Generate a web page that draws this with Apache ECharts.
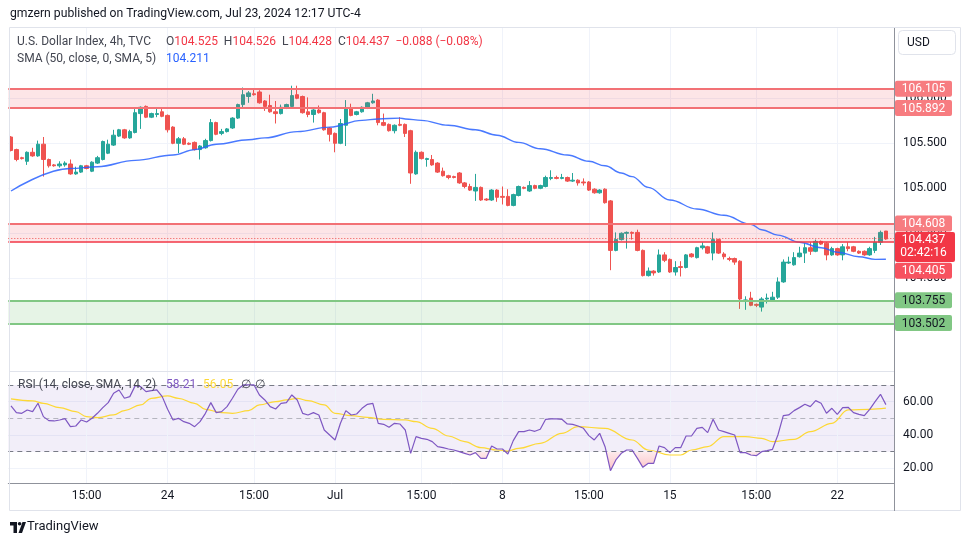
<!DOCTYPE html>
<html><head><meta charset="utf-8">
<script src="https://cdn.jsdelivr.net/npm/echarts@6/dist/echarts.min.js"></script>
<style>html,body{margin:0;padding:0;background:#fff}#c{width:970px;height:545px}</style>
</head><body><div id="c"></div>
<script>
// ---- data: [open, close, low, high] per 4h candle ----
const ohlc = [
[105.57,105.42,105.41,105.58],[105.43,105.32,105.30,105.44],[105.34,105.33,105.32,105.35],[105.30,105.40,105.26,105.41],[105.40,105.36,105.35,105.45],
[105.36,105.49,105.35,105.53],[105.49,105.32,105.13,105.57],[105.32,105.25,105.23,105.33],[105.26,105.25,105.24,105.27],[105.25,105.27,105.23,105.30],
[105.26,105.28,105.24,105.30],[105.27,105.16,105.15,105.32],[105.16,105.18,105.15,105.24],[105.18,105.25,105.17,105.26],[105.25,105.22,105.21,105.26],
[105.19,105.29,105.18,105.30],[105.28,105.34,105.27,105.36],[105.32,105.52,105.31,105.53],[105.39,105.49,105.38,105.54],[105.48,105.59,105.47,105.65],
[105.58,105.65,105.57,105.66],[105.65,105.56,105.55,105.66],[105.56,105.63,105.55,105.65],[105.62,105.84,105.61,105.88],[105.83,105.90,105.66,105.91],
[105.91,105.79,105.78,105.92],[105.79,105.83,105.78,105.84],[105.82,105.83,105.79,105.90],[105.85,105.80,105.79,105.90],[105.81,105.65,105.62,105.82],
[105.68,105.50,105.49,105.69],[105.50,105.55,105.39,105.57],[105.55,105.49,105.48,105.57],[105.50,105.49,105.48,105.51],[105.51,105.43,105.42,105.52],
[105.43,105.47,105.32,105.48],[105.45,105.53,105.44,105.55],[105.53,105.73,105.52,105.77],[105.73,105.60,105.59,105.74],[105.61,105.63,105.59,105.66],
[105.63,105.66,105.62,105.67],[105.67,105.78,105.66,105.79],[105.78,105.93,105.77,105.94],[105.93,106.04,105.90,106.12],[106.02,106.06,105.95,106.08],
[106.05,106.04,106.03,106.11],[106.07,105.95,105.94,106.09],[105.97,105.91,105.86,105.98],[105.92,105.85,105.84,106.04],[105.85,105.83,105.72,105.97],
[105.83,105.90,105.82,105.93],[105.89,105.93,105.88,105.94],[105.91,106.03,105.90,106.14],[106.04,106.00,105.99,106.14],[106.02,105.84,105.83,106.03],
[105.85,105.82,105.79,106.01],[105.82,105.87,105.73,105.88],[105.87,105.84,105.83,105.92],[105.84,105.65,105.64,105.85],[105.67,105.60,105.52,105.68],
[105.61,105.50,105.40,105.62],[105.50,105.72,105.49,105.77],[105.70,105.88,105.47,105.98],[105.89,105.81,105.80,105.94],[105.82,105.85,105.81,105.86],
[105.85,105.90,105.84,105.91],[105.89,105.95,105.88,105.96],[105.95,105.97,105.94,106.05],[105.98,105.73,105.70,105.99],[105.73,105.70,105.69,105.83],
[105.71,105.64,105.63,105.72],[105.64,105.70,105.61,105.71],[105.71,105.70,105.69,105.79],[105.71,105.61,105.57,105.72],[105.64,105.17,105.05,105.65],
[105.16,105.40,105.15,105.42],[105.40,105.33,105.32,105.41],[105.32,105.33,105.24,105.34],[105.32,105.26,105.25,105.37],[105.28,105.18,105.17,105.29],
[105.19,105.14,105.13,105.23],[105.14,105.12,105.10,105.15],[105.13,105.12,105.11,105.14],[105.17,105.06,105.05,105.18],[105.06,105.02,105.00,105.07],
[105.02,104.98,104.97,105.05],[104.97,105.01,104.86,105.16],[105.01,104.87,104.86,105.02],[104.88,104.87,104.86,104.89],[104.87,104.98,104.86,104.99],
[104.98,104.90,104.85,104.99],[104.91,104.90,104.82,105.02],[104.91,104.81,104.80,104.99],[104.81,104.93,104.80,104.94],[104.92,105.02,104.91,105.03],
[105.01,105.00,104.99,105.02],[104.97,105.03,104.96,105.08],[105.03,105.00,104.99,105.04],[105.00,105.03,104.99,105.04],[105.02,105.12,105.01,105.14],
[105.11,105.12,105.09,105.20],[105.12,105.11,105.10,105.14],[105.11,105.12,105.10,105.16],[105.12,105.08,105.07,105.13],[105.08,105.09,105.07,105.17],
[105.09,105.06,105.03,105.10],[105.07,105.06,105.03,105.11],[105.07,104.98,104.97,105.08],[104.99,104.95,104.94,105.00],[104.95,104.98,104.94,104.99],
[104.99,104.84,104.83,105.00],[104.86,104.31,104.09,104.87],[104.31,104.43,104.30,104.51],[104.43,104.50,104.42,104.51],[104.50,104.51,104.33,104.52],
[104.51,104.50,104.43,104.52],[104.51,104.31,104.30,104.54],[104.31,104.03,104.02,104.32],[104.03,104.08,104.02,104.12],[104.08,104.06,104.03,104.09],
[104.07,104.26,104.06,104.32],[104.26,104.20,104.18,104.29],[104.21,104.07,104.06,104.22],[104.07,104.12,104.03,104.19],[104.13,104.12,104.02,104.19],
[104.12,104.26,104.11,104.27],[104.27,104.24,104.23,104.28],[104.23,104.34,104.22,104.35],[104.34,104.36,104.32,104.40],[104.35,104.28,104.27,104.36],
[104.28,104.43,104.20,104.51],[104.43,104.28,104.27,104.44],[104.27,104.24,104.21,104.29],[104.22,104.21,104.19,104.24],[104.22,104.18,104.15,104.23],
[104.19,103.77,103.66,104.20],[103.75,103.76,103.65,103.80],[103.78,103.70,103.69,103.85],[103.71,103.70,103.68,103.72],[103.68,103.77,103.63,103.79],
[103.77,103.78,103.72,103.83],[103.76,103.79,103.74,103.85],[103.79,103.96,103.77,104.01],[103.96,104.18,103.95,104.21],[104.17,104.18,104.16,104.24],
[104.15,104.23,104.14,104.29],[104.24,104.28,104.23,104.35],[104.28,104.34,104.17,104.39],[104.34,104.30,104.26,104.40],[104.30,104.41,104.29,104.43],
[104.41,104.38,104.37,104.42],[104.39,104.26,104.20,104.40],[104.26,104.33,104.25,104.35],[104.33,104.26,104.25,104.34],[104.26,104.35,104.20,104.38],
[104.35,104.33,104.30,104.40],[104.35,104.30,104.29,104.36],[104.30,104.28,104.27,104.31],[104.30,104.26,104.25,104.31],[104.26,104.33,104.25,104.35],
[104.31,104.40,104.28,104.46],[104.40,104.51,104.37,104.53],[104.525,104.437,104.428,104.526]
];
// SMA(50) read at sample candles: [candle index, value]
const sma50 = [[0,104.97],[11,105.22],[16,105.24],[23,105.31],[30,105.37],[34,105.43],[38,105.49],[44,105.54],[47,105.56],[53,105.63],[59,105.68],[65,105.755],[68,105.77],[72,105.78],[73,105.77],[76,105.755],[81,105.70],[86,105.65],[90,105.59],[94,105.51],[98,105.44],[103,105.37],[107,105.30],[110,105.25],[113,105.17],[115,105.13],[118,105.01],[122,104.87],[127,104.77],[132,104.70],[137,104.60],[139,104.54],[142,104.48],[146,104.40],[150,104.34],[153,104.29],[157,104.24],[160,104.21],[162,104.211]];
// RSI(14) per candle
const rsi = [57.4,53.4,53,55,54,59,51,48.6,48.4,49,
49.8,45,45.4,49,47.8,50,53,56.4,59.4,65,
67,62,63,69.6,69,66,66.6,67,63,55.4,
49,50,48,47,45,48,53,59.4,53.4,54,
57,62,67.4,70,70,70,64,61,57,55.6,
59,59.4,64,61,53,52,53.4,52,43,40,
37,47,54.6,52,52.6,56,58.4,59,47,46.4,
44.6,47,46.6,43,29,39,38,37.4,36,33,
32.4,31.6,31,30,29,28,29.4,26,26,33.4,
31.6,31.6,28.6,36.6,42,42,43,42.2,43.4,49.4,
49.6,49.6,49.4,46.6,46.4,45.4,44,39.6,37,41,
33,18.6,25,29,31,31,26,20.6,23,23,
33.4,32.4,29.4,32.4,32.4,39.4,39.4,44,44.6,41.4,
49.4,43,42,41,40,29.4,29.4,28,27.6,30,
30.6,31.4,40,51.6,52,54.6,56.4,58.4,57,60.6,
59,53,56,52.4,56.4,56.6,53.4,52.4,51.6,55.4,
60,64.4,58.21];
// RSI-based SMA(14) read at sample candles
const rsiMa = [[0,61.6],[4,60.4],[6,59],[9,56.4],[12,54],[14,51],[16,50.4],[19,52],[21,54.6],[24,58],[26,62],[29,63.4],[31,62],[34,59],[36,55.4],[39,53.4],[41,53],[44,54.6],[46,58],[49,60],[51,61],[53,62],[55,60.6],[58,58],[60,53],[63,51.6],[66,50.6],[69,49.4],[73,49],[75,48],[78,44],[81,39.4],[84,36],[87,32.4],[90,31],[92,30.4],[94,32],[98,35],[102,41],[105,45],[110,44],[115,37],[118,31],[122,28],[124,28],[126,31],[129,33],[132,39],[136,39],[139,38],[141,36],[145,37.4],[148,42],[152,47],[155,55],[159,55.4],[162,56.05]];
// time-axis labels
const tickIdx = [14,29,45,60,76,91,107,122,138,153];
const tickText = ['15:00','24','15:00','Jul','15:00','8','15:00','15','15:00','22'];
const priceTicks = [104,104.5,105,105.5,106];
const rsiTicks = [20,40,60];
const redZones = [[105.892,106.105],[104.405,104.608]];
const greenZone = [103.502,103.755];
const lastPrice = 104.437;
const rsiLevels = [70,50,30];

const FONT = 'Roboto';
const cats = [], nameToText = {};
for (let i = 0; i <= ohlc.length; i++) {
  const n = 'i' + i; cats.push(n);
  const k = tickIdx.indexOf(i); nameToText[n] = k >= 0 ? tickText[k] : '';
}
const tickSet = new Set(tickIdx);
const UP = '#26a69a', DOWN = '#ef5350';
const vGrid = tickIdx.map(i => ({xAxis: i}));

const option = {
  animation: false,
  backgroundColor: '#ffffff',
  grid: [
    {left: 8.3, width: 885.7, top: 28, height: 343},
    {left: 8.3, width: 885.7, top: 371, height: 112}
  ],
  xAxis: [
    {type: 'category', gridIndex: 0, data: cats, boundaryGap: true, axisLine: {show: false}, axisTick: {show: false}, axisLabel: {show: false}, splitLine: {show: false}},
    {type: 'category', gridIndex: 1, data: cats, boundaryGap: true,
      axisLine: {show: true, lineStyle: {color: '#8f929b', width: 1}}, axisTick: {show: false},
      axisLabel: {show: true, interval: (i) => tickSet.has(i), formatter: (v) => nameToText[v], color: '#131722', fontFamily: FONT, fontSize: 12, margin: 7},
      splitLine: {show: false}}
  ],
  yAxis: [
    {type: 'value', gridIndex: 0, position: 'right', min: 102.97, max: 106.781, scale: true,
      axisLine: {show: true, lineStyle: {color: '#8f929b'}},
      axisTick: {show: false, customValues: priceTicks},
      axisLabel: {customValues: priceTicks, formatter: v => v.toFixed(3), color: '#131722', fontFamily: FONT, fontSize: 12, margin: 9},
      splitLine: {show: true, lineStyle: {color: '#f0f3fa', width: 1}}},
    {type: 'value', gridIndex: 1, position: 'right', min: 11.2, max: 78.37,
      axisLine: {show: true, lineStyle: {color: '#8f929b'}},
      axisTick: {show: false, customValues: rsiTicks},
      axisLabel: {customValues: rsiTicks, formatter: v => v.toFixed(2), color: '#131722', fontFamily: FONT, fontSize: 12, margin: 9},
      splitLine: {show: true, lineStyle: {color: '#f0f3fa', width: 1}}}
  ],
  series: [
    {type: 'candlestick', name: 'DXY', xAxisIndex: 0, yAxisIndex: 0, data: ohlc, barWidth: 4, z: 3,
      itemStyle: {color: UP, color0: DOWN, borderColor: UP, borderColor0: DOWN, borderWidth: 1},
      markArea: {silent: true, z: 4, data: [
        [{yAxis: redZones[0][0], itemStyle: {color: 'rgba(242,54,69,0.13)'}}, {yAxis: redZones[0][1]}],
        [{yAxis: redZones[1][0], itemStyle: {color: 'rgba(242,54,69,0.13)'}}, {yAxis: redZones[1][1]}],
        [{yAxis: greenZone[0], itemStyle: {color: 'rgba(76,175,80,0.14)'}}, {yAxis: greenZone[1]}]
      ]},
      markLine: {silent: true, symbol: ['none', 'none'], label: {show: false}, z: 5, data: [
        {yAxis: redZones[0][1], lineStyle: {color: '#f27175', width: 2, type: 'solid'}},
        {yAxis: redZones[0][0], lineStyle: {color: '#f27175', width: 2, type: 'solid'}},
        {yAxis: redZones[1][1], lineStyle: {color: '#f27175', width: 2, type: 'solid'}},
        {yAxis: redZones[1][0], lineStyle: {color: '#f23645', width: 1.5, type: 'solid'}},
        {yAxis: lastPrice, lineStyle: {color: '#ef5350', width: 1, type: [1, 2]}},
        {yAxis: greenZone[1], lineStyle: {color: '#81c784', width: 2, type: 'solid'}},
        {yAxis: greenZone[0], lineStyle: {color: '#81c784', width: 2, type: 'solid'}}
      ]}
    },
    {type: 'line', name: 'SMA50', xAxisIndex: 0, yAxisIndex: 0, data: sma50, showSymbol: false, smooth: 0.4, smoothMonotone: 'x', z: 4,
      lineStyle: {color: '#2962ff', width: 1.4, opacity: 0.85}},
    {type: 'line', name: 'gridP', xAxisIndex: 0, yAxisIndex: 0, data: sma50, showSymbol: false, silent: true, z: 1,
      lineStyle: {opacity: 0},
      markLine: {silent: true, z: 1, symbol: ['none', 'none'], label: {show: false}, lineStyle: {color: '#f0f3fa', width: 1, type: 'solid'}, data: vGrid}},
    {type: 'line', name: 'band', xAxisIndex: 1, yAxisIndex: 1, data: rsi, showSymbol: false, silent: true, z: 1,
      lineStyle: {opacity: 0},
      markArea: {silent: true, z: 1, itemStyle: {color: 'rgba(126,87,194,0.1)'}, data: [[{yAxis: rsiLevels[0]}, {yAxis: rsiLevels[2]}]]},
      markLine: {silent: true, z: 2, symbol: ['none', 'none'], label: {show: false}, data: [
        ...vGrid.map(d => Object.assign({lineStyle: {color: '#f0f3fa', width: 1, type: 'solid'}}, d)),
        {yAxis: rsiLevels[0], lineStyle: {color: '#787b86', width: 1, type: [5, 4]}},
        {yAxis: rsiLevels[1], lineStyle: {color: 'rgba(120,123,134,0.5)', width: 1, type: [5, 4]}},
        {yAxis: rsiLevels[2], lineStyle: {color: '#787b86', width: 1, type: [5, 4]}}
      ]}},
    {type: 'line', name: 'oversold', xAxisIndex: 1, yAxisIndex: 1, data: rsi, showSymbol: false, silent: true, z: 2,
      lineStyle: {width: 0, opacity: 0}, areaStyle: {origin: 30, opacity: 1, color: 'rgba(0,0,0,0)'}},
    {type: 'line', name: 'RSI MA', xAxisIndex: 1, yAxisIndex: 1, data: rsiMa, showSymbol: false, smooth: 0.4, smoothMonotone: 'x', z: 3,
      lineStyle: {color: '#fdd835', width: 1.2}},
    {type: 'line', name: 'RSI', xAxisIndex: 1, yAxisIndex: 1, data: rsi, showSymbol: false, z: 4,
      lineStyle: {color: '#7e57c2', width: 1.2}}
  ]
};

const chart = echarts.init(document.getElementById('c'), null, {renderer: 'canvas'});
chart.setOption(option);

// oversold fill: gradient in pixel space that is transparent above the 30 level
const y30 = chart.convertToPixel({yAxisIndex: 1}, rsiLevels[2]);
const yBot = chart.convertToPixel({yAxisIndex: 1}, 11.2);
chart.setOption({series: [{}, {}, {}, {}, {areaStyle: {origin: 30, opacity: 1, color: {
  type: 'linear', global: true, x: 0, y: y30, x2: 0, y2: yBot,
  colorStops: [{offset: 0, color: 'rgba(242,54,69,0)'}, {offset: 0.01, color: 'rgba(242,54,69,0.10)'}, {offset: 1, color: 'rgba(242,54,69,0.45)'}]
}}}, {}, {}]});

const py = v => chart.convertToPixel({yAxisIndex: 0}, v);
function tag(val, text, bg, fg, dy) {
  const y = py(val) + dy;
  return {type: 'group', z: 100, children: [
    {type: 'rect', shape: {x: 895, y: y - 8, width: 57, height: 16, r: 2}, style: {fill: bg}, z: 100},
    {type: 'text', z: 101, style: {x: 923.5, y: y + 0.5, text: text, fill: fg, font: '12px ' + FONT, align: 'center', verticalAlign: 'middle'}}
  ]};
}
const yLast = py(lastPrice);
const T = (x, y, text, fill, size, extra) => Object.assign({type: 'text', z: 100, style: Object.assign({x, y, text, fill, font: (size || 12) + 'px ' + FONT, verticalAlign: 'middle'}, extra || {})});
const graphics = [
  {type: 'rect', z: 90, shape: {x: 9.5, y: 27.5, width: 951, height: 483}, style: {fill: 'none', stroke: '#e0e3eb', lineWidth: 1}},
  {type: 'line', z: 90, shape: {x1: 10, y1: 371.5, x2: 894, y2: 371.5}, style: {stroke: '#e0e3eb', lineWidth: 1}},
  {type: 'line', z: 90, shape: {x1: 894.5, y1: 483, x2: 894.5, y2: 511}, style: {stroke: '#8f929b', lineWidth: 1}},
  T(10, 14, 'gmzern published on TradingView.com, Jul 23, 2024 12:17 UTC-4', '#131722', 12.2),
  T(17, 42, 'U.S. Dollar Index, 4h, TVC', '#434651', 12),
  {type: 'text', z: 100, style: {x: 166, y: 42, verticalAlign: 'middle', font: '12px ' + FONT,
    text: '{g|O}{r|104.525}  {g|H}{r|104.526}  {g|L}{r|104.428}  {g|C}{r|104.437}  {r|\u22120.088 (\u22120.08%)}',
    rich: {g: {fill: '#434651', font: '12px ' + FONT}, r: {fill: '#f23645', font: '12px ' + FONT}}}},
  T(17, 59, 'SMA (50, close, 0, SMA, 5)', '#434651', 12),
  T(166, 59, '104.211', '#2962ff', 12),
  T(18, 385, 'RSI (14, close, SMA, 14, 2)', '#434651', 12),
  T(166, 385, '58.21', '#7e57c2', 12),
  T(203, 385, '56.05', '#fdd835', 12),
  T(241, 385, '\u2205', '#434651', 12),
  T(255, 385, '\u2205', '#434651', 12),
  {type: 'rect', z: 100, shape: {x: 898.5, y: 30.5, width: 57, height: 24, r: 4}, style: {fill: '#fff', stroke: '#e0e3eb', lineWidth: 1}},
  T(907, 43, 'USD', '#131722', 12),
  tag(redZones[0][1], '106.105', '#f77c80', '#ffffff', 0),
  tag(redZones[0][0], '105.892', '#f77c80', '#ffffff', 0),
  tag(redZones[1][1], '104.608', '#f77c80', '#ffffff', 0),
  {type: 'group', z: 100, children: [
    {type: 'rect', z: 100, shape: {x: 895, y: yLast - 7, width: 60, height: 30, r: 2}, style: {fill: '#f23645'}},
    {type: 'text', z: 101, style: {x: 923.5, y: yLast + 1.5, text: '104.437', fill: '#fff', font: '12px ' + FONT, align: 'center', verticalAlign: 'middle'}},
    {type: 'text', z: 101, style: {x: 923.5, y: yLast + 14.5, text: '02:42:16', fill: '#fff', font: '12px ' + FONT, align: 'center', verticalAlign: 'middle'}}
  ]},
  tag(redZones[1][0], '104.405', '#f7525f', '#ffffff', 29),
  tag(greenZone[1], '103.755', '#81c784', '#131722', 0),
  tag(greenZone[0], '103.502', '#81c784', '#131722', 0),
  {type: 'polygon', z: 100, shape: {points: [[10,522],[17,522],[17,533],[13.5,533],[13.5,525.5],[10,525.5]]}, style: {fill: '#131722'}},
  {type: 'circle', z: 100, shape: {cx: 19.6, cy: 523.8, r: 1.8}, style: {fill: '#131722'}},
  {type: 'polygon', z: 100, shape: {points: [[18.5,533],[22,533],[26,522],[22.5,522]]}, style: {fill: '#131722'}},
  T(27, 527, 'TradingView', '#131722', 13)
];
chart.setOption({graphic: graphics});
</script>
</body></html>
